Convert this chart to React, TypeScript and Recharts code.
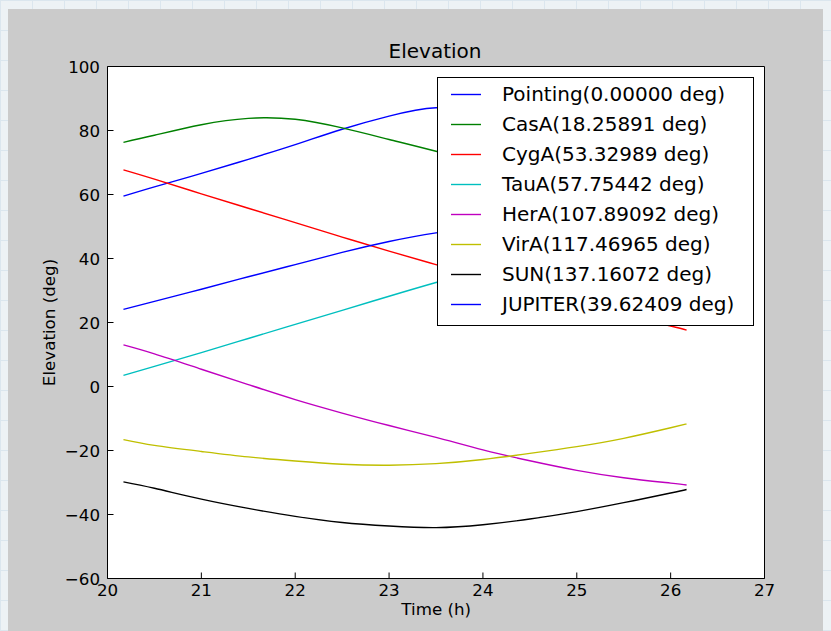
import React from 'react';
import { LineChart, Line, XAxis, YAxis, Legend, ReferenceArea } from 'recharts';

// hours (x) and elevation in degrees for each source
const hours = [20.17, 20.5, 21, 21.5, 22, 22.5, 23, 23.5, 24, 24.5, 25, 25.5, 26, 26.17];
const pointing = [59.5, 62.4, 66.6, 71.0, 75.6, 80.4, 84.5, 87.1, 85.8, 82.0, 77.0, 71.5, 66.0, 64.0];
const casA = [76.3, 78.5, 81.8, 83.8, 83.5, 80.8, 77.2, 73.5, 69.5, 65.5, 61.5, 57.5, 53.5, 52.0];
const cygA = [67.7, 64.8, 60.2, 55.7, 51.2, 46.7, 42.3, 38.1, 34.0, 30.0, 26.0, 22.4, 18.9, 17.6];
const tauA = [3.5, 6.3, 10.6, 15.0, 19.4, 23.8, 28.2, 32.5, 36.5, 40.5, 44.5, 48.3, 52.0, 53.0];
const herA = [13.0, 10.2, 5.4, 0.6, -4.1, -8.3, -12.2, -15.9, -19.8, -23.2, -26.2, -28.5, -30.2, -30.8];
const virA = [-16.6, -18.4, -20.3, -22.0, -23.3, -24.3, -24.6, -24.1, -22.8, -20.9, -18.8, -16.2, -12.9, -11.7];
const sun = [-29.8, -31.8, -35.2, -38.1, -40.6, -42.5, -43.6, -44.1, -43.2, -41.4, -39.1, -36.3, -33.3, -32.2];
const jupiter = [24.1, 26.6, 30.4, 34.3, 38.1, 41.9, 45.3, 48.0, 49.8, 50.8, 51.0, 50.4, 49.0, 48.4];

const xTicks = [20, 21, 22, 23, 24, 25, 26, 27];
const yTicks = [-60, -40, -20, 0, 20, 40, 60, 80, 100];

const series = [
  { key: 'pointing', name: 'Pointing(0.00000 deg)', color: '#0000ff', values: pointing },
  { key: 'casA', name: 'CasA(18.25891 deg)', color: '#008000', values: casA },
  { key: 'cygA', name: 'CygA(53.32989 deg)', color: '#ff0000', values: cygA },
  { key: 'tauA', name: 'TauA(57.75442 deg)', color: '#00bfbf', values: tauA },
  { key: 'herA', name: 'HerA(107.89092 deg)', color: '#bf00bf', values: herA },
  { key: 'virA', name: 'VirA(117.46965 deg)', color: '#bfbf00', values: virA },
  { key: 'sun', name: 'SUN(137.16072 deg)', color: '#000000', values: sun },
  { key: 'jupiter', name: 'JUPITER(39.62409 deg)', color: '#0000ff', values: jupiter },
];

const data = hours.map((t, i) => {
  const row: Record<string, number> = { t };
  series.forEach((s) => {
    row[s.key] = s.values[i];
  });
  return row;
});

const FONT = '"DejaVu Sans", sans-serif';
const W = 823;
const H = 622;
// plot edges inside the chart svg (matplotlib-like axes box)
const PL = 99.5;
const PT = 57.5;
const PR = 756.5;
const PB = 569.5;
const TICK = 6;

const minus = (v: number) => String(v).replace('-', '\u2212');

// ticks point inward like matplotlib classic style
function BottomTick({ payload }: any) {
  const x = payload.coordinate;
  return (
    <g>
      <line x1={x} x2={x} y1={PB} y2={PB - TICK} stroke="#000" />
      <text x={x} y={PB + 17.2} textAnchor="middle" fontSize={16.7} fontFamily={FONT} fill="#000">
        {payload.value}
      </text>
    </g>
  );
}

function LeftTick({ payload }: any) {
  const y = payload.coordinate;
  return (
    <g>
      <line x1={PL} x2={PL + TICK} y1={y} y2={y} stroke="#000" />
      <text x={PL - 7.5} y={y} dy="0.36em" textAnchor="end" fontSize={16.7} fontFamily={FONT} fill="#000">
        {minus(payload.value)}
      </text>
    </g>
  );
}

function TopTick({ payload }: any) {
  const x = payload.coordinate;
  return <line x1={x} x2={x} y1={PT} y2={PT + TICK} stroke="#000" />;
}

function RightTick({ payload }: any) {
  const y = payload.coordinate;
  return <line x1={PR} x2={PR - TICK} y1={y} y2={y} stroke="#000" />;
}

function LegendBox() {
  return (
    <div
      style={{
        background: '#fff',
        border: '1px solid #000',
        width: 315,
        padding: '1px 0 6px 0',
        fontFamily: FONT,
        fontSize: 20,
        color: '#000',
      }}
    >
      {series.map((s) => (
        <div key={s.key} style={{ position: 'relative', height: 30 }}>
          <svg width={30} height={30} style={{ position: 'absolute', left: 13, top: 0 }}>
            <line x1={0} x2={30} y1={15.5} y2={15.5} stroke={s.color} strokeWidth={1.4} />
          </svg>
          <span style={{ position: 'absolute', left: 64, top: 0, lineHeight: '30px', whiteSpace: 'nowrap' }}>
            {s.name}
          </span>
        </div>
      ))}
    </div>
  );
}

export default function App() {
  return (
    <>
      <div
        style={{
          position: 'fixed',
          inset: 0,
          zIndex: -1,
          background: '#edf2f5',
          backgroundImage:
            'linear-gradient(#dbe6ee 1px, transparent 1px), linear-gradient(90deg, #dbe6ee 1px, transparent 1px)',
          backgroundSize: '32px 30px',
        }}
      />
      <div style={{ position: 'relative', width: W, height: H, marginTop: 1, background: '#cbcbcb' }}>
        <LineChart
          width={W}
          height={H}
          data={data}
          margin={{ top: PT, right: W - PR, left: PL - 60, bottom: H - PB - 30 }}
        >
          <XAxis
            dataKey="t"
            type="number"
            domain={[20, 27]}
            ticks={xTicks}
            allowDataOverflow
            height={30}
            axisLine={false}
            tickLine={false}
            tick={<BottomTick />}
          />
          <XAxis
            xAxisId="top"
            orientation="top"
            dataKey="t"
            type="number"
            domain={[20, 27]}
            ticks={xTicks}
            allowDataOverflow
            height={0}
            axisLine={false}
            tickLine={false}
            tick={<TopTick />}
          />
          <YAxis
            type="number"
            domain={[-60, 100]}
            ticks={yTicks}
            allowDataOverflow
            width={60}
            axisLine={false}
            tickLine={false}
            tick={<LeftTick />}
          />
          <YAxis
            yAxisId="right"
            orientation="right"
            type="number"
            domain={[-60, 100]}
            ticks={yTicks}
            allowDataOverflow
            width={0}
            axisLine={false}
            tickLine={false}
            tick={<RightTick />}
          />
          <ReferenceArea
            x1={20}
            x2={27}
            y1={-60}
            y2={100}
            fill="#ffffff"
            fillOpacity={1}
            stroke="#000"
            strokeWidth={1}
            ifOverflow="visible"
          />
          {series.map((s) => (
            <Line
              key={s.key}
              type="natural"
              dataKey={s.key}
              name={s.name}
              stroke={s.color}
              strokeWidth={1.4}
              dot={false}
              activeDot={false}
              isAnimationActive={false}
            />
          ))}
          <Legend
            layout="vertical"
            align="center"
            verticalAlign="middle"
            content={<LegendBox />}
            wrapperStyle={{ left: 429, top: 68, width: 317, height: 'auto' }}
          />
        </LineChart>
        <svg
          width={W}
          height={H}
          style={{ position: 'absolute', left: 0, top: 0, pointerEvents: 'none' }}
          fontFamily={FONT}
        >
          <text x={427} y={48.7} textAnchor="middle" fontSize={20} fill="#000">
            Elevation
          </text>
          <text x={428.2} y={605.9} textAnchor="middle" fontSize={16.7} fill="#000">
            Time (h)
          </text>
          <text transform="translate(47 313.5) rotate(-90)" textAnchor="middle" fontSize={16.7} fill="#000">
            Elevation (deg)
          </text>
        </svg>
      </div>
    </>
  );
}
